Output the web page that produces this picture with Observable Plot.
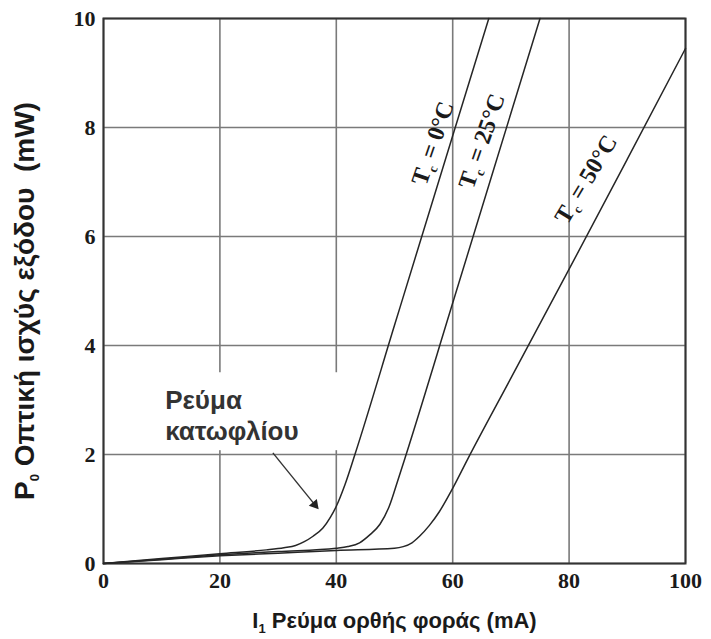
<!DOCTYPE html>
<html><head><meta charset="utf-8">
<script src="https://cdn.jsdelivr.net/npm/d3@7"></script>
<script src="https://cdn.jsdelivr.net/npm/@observablehq/plot@0.6"></script>
<style>
body{margin:0;background:#fff}
#chart svg{background:#fff}
</style>
</head><body><div id="chart"></div>
<script>
// Forward current I (mA) vs optical output power P (mW) at case temperatures
const xTicks = [0, 20, 40, 60, 80, 100];
const yTicks = [0, 2, 4, 6, 8, 10];

const current0C = [0, 10, 20, 28, 31, 33, 34.5, 36, 37.7, 39, 40, 41.5, 43.2, 50, 60, 66.2];
const power0C   = [0, 0.09, 0.18, 0.25, 0.29, 0.33, 0.40, 0.50, 0.65, 0.85, 1.05, 1.45, 2.0, 4.37, 7.85, 10];

const current25C = [0, 10, 20, 30, 40, 42, 44, 45.7, 47.5, 49.1, 50.5, 52, 60, 70, 75];
const power25C   = [0, 0.08, 0.16, 0.22, 0.28, 0.31, 0.38, 0.52, 0.72, 1.05, 1.5, 2.0, 4.78, 8.26, 10];

const current50C = [0, 10, 20, 30, 40, 50, 51.5, 53, 54.3, 56, 57.7, 59.9, 62.6, 70, 80, 90, 100];
const power50C   = [0, 0.07, 0.14, 0.19, 0.24, 0.28, 0.31, 0.38, 0.50, 0.70, 0.95, 1.36, 1.92, 3.4, 5.4, 7.42, 9.45];

const tempLabels = ["Tc = 0°C", "Tc = 25°C", "Tc = 50°C"];
const tempLabelX = [56.6, 65.0, 82.9];
const tempLabelY = [7.71, 7.75, 7.05];
const tempLabelAngle = [-71, -71, -59];

const noteText = "Ρεύμα\nκατωφλίου";
const noteX = 10.6, noteY = 2.74;
const noteBox = {x1: 3.8, x2: 43.3, y1: 2.07, y2: 3.5};
const arrowFrom = [29.1, 2.03], arrowTo = [36.3, 1.08];

const xTitle = "I1 Ρεύμα ορθής φοράς (mA)";
const yTitle = "P0 Οπτική ισχύς εξόδου  (mW)";

function toRows(xs, ys, s) { return xs.map((x, i) => ({x, y: ys[i], s})); }
const curves = [
  ...toRows(current0C, power0C, "0"),
  ...toRows(current25C, power25C, "25"),
  ...toRows(current50C, power50C, "50")
];
const labels = tempLabels.map((t, i) => ({t, x: tempLabelX[i], y: tempLabelY[i], a: tempLabelAngle[i]}));

const svg = Plot.plot({
  width: 711, height: 639,
  marginLeft: 103, marginRight: 26, marginTop: 18, marginBottom: 76,
  x: {domain: [0, 100]},
  y: {domain: [0, 10]},
  style: {background: "#fff"},
  marks: [
    Plot.gridX(xTicks, {stroke: "#7a7a7a", strokeOpacity: 1, strokeWidth: 1.6}),
    Plot.gridY(yTicks, {stroke: "#7a7a7a", strokeOpacity: 1, strokeWidth: 1.6}),
    Plot.rect([noteBox], {x1: "x1", x2: "x2", y1: "y1", y2: "y2", fill: "#fff"}),
    Plot.frame({stroke: "#333", strokeWidth: 2}),
    Plot.line(curves, {x: "x", y: "y", z: "s", stroke: "#262626", strokeWidth: 1.5, curve: "monotone-x"}),
    Plot.link([{x1: arrowFrom[0], y1: arrowFrom[1], x2: arrowTo[0], y2: arrowTo[1]}],
      {x1: "x1", y1: "y1", x2: "x2", y2: "y2", stroke: "#333", strokeWidth: 1.4}),
    Plot.dot([{x: arrowTo[0], y: arrowTo[1]}], {x: "x", y: "y", symbol: "triangle2", r: 5, fill: "#222", rotate: 140}),
    Plot.text(labels, {x: "x", y: "y", text: "t", rotate: "a",
      fontFamily: "Liberation Serif", fontWeight: "bold", fontSize: 24, fill: "#1a1a1a"}),
    Plot.text([noteText], {x: noteX, y: noteY, text: d => d, textAnchor: "start", lineHeight: 1.2,
      fontFamily: "Liberation Sans", fontWeight: "bold", fontSize: 26, fill: "#333"}),
    Plot.axisX(xTicks, {tickSize: 0, tickPadding: 9, label: null, tickFormat: d => String(d),
      fontFamily: "Liberation Serif", fontWeight: "bold", fontSize: 22, fill: "#1a1a1a"}),
    Plot.axisY(yTicks, {tickSize: 0, tickPadding: 8, label: null, tickFormat: d => String(d),
      fontFamily: "Liberation Serif", fontWeight: "bold", fontSize: 22, fill: "#1a1a1a"}),
    Plot.text([xTitle], {text: d => d, frameAnchor: "bottom", dy: 57, lineAnchor: "middle", textAnchor: "middle",
      fontFamily: "Liberation Sans", fontWeight: "bold", fontSize: 22, fill: "#1a1a1a"}),
    Plot.text([yTitle], {text: d => d, frameAnchor: "left", dx: -78, dy: 10, rotate: -90,
      textAnchor: "middle", lineAnchor: "middle",
      fontFamily: "Liberation Sans", fontWeight: "bold", fontSize: 28, fill: "#1a1a1a"})
  ]
});

// Put the second character of these texts in subscript (T_c, I_1, P_0)
const subTexts = new Set([...tempLabels, xTitle, yTitle]);
d3.select(svg).selectAll("text").each(function() {
  const s = this.textContent;
  if (!subTexts.has(s)) return;
  const fs = parseFloat(this.getAttribute("font-size") || getComputedStyle(this).fontSize) || 22;
  const shift = Math.round(fs * 0.22);
  const el = d3.select(this);
  el.text(null);
  el.append("tspan").text(s[0]);
  el.append("tspan").attr("font-size", Math.round(fs * 0.58)).attr("dy", shift).text(s[1]);
  el.append("tspan").attr("dy", -shift).text(s.slice(2));
});

document.getElementById("chart").appendChild(svg);
</script>
</body></html>
